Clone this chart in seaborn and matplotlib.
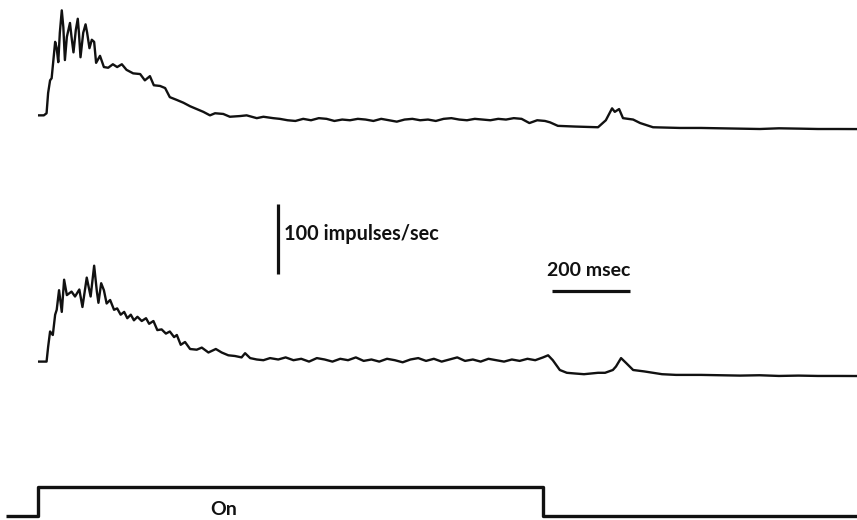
import numpy as np
import pandas as pd
import matplotlib
matplotlib.use("Agg")
import matplotlib.pyplot as plt
import seaborn as sns

# ---------------- data (time in ms from stimulus onset, rate in impulses/sec) ----------------
t1 = [0, 15, 22, 26, 31, 35, 44, 48, 52, 56, 61, 65, 69, 74, 82, 86, 91, 97, 102, 105,
      109, 116, 122, 126, 132, 138, 144, 149, 159, 169, 180, 192, 203, 215, 227, 244, 262,
      274, 287, 297, 313, 326, 338, 356, 373, 390, 407, 424, 441, 454, 475, 492, 518, 535,
      561, 578, 603,
      620, 640, 660, 680, 700, 720, 740, 760, 780, 800, 820, 840, 860, 880, 900, 920, 940,
      960, 980, 1000, 1020, 1040, 1060, 1080, 1100, 1120, 1140, 1160, 1180, 1200, 1220,
      1240, 1260, 1280, 1300, 1313, 1333, 1377, 1436, 1456, 1472, 1479, 1490, 1500, 1513,
      1526, 1544, 1577, 1646, 1700, 1749, 1800, 1851, 1900, 1954, 2000, 2050, 2100]
r1 = [21, 21, 24, 53, 71, 74, 126, 117, 97, 139, 171, 147, 100, 133, 153, 133, 111, 143, 159, 139,
      104, 139, 151, 139, 117, 129, 126, 96, 106, 90, 89, 94, 90, 94, 86, 81, 80,
      71, 77, 64, 63, 60, 47, 43, 39, 34, 30, 26, 21, 24, 23, 19, 20, 21,
      17, 19, 17,
      16, 14, 13, 16, 14, 17, 16, 13, 15, 14, 16, 15, 13, 16, 14, 12, 15,
      16, 14, 15, 13, 16, 17, 15, 14, 16, 15, 14, 16, 15, 17,
      16, 10, 14, 13, 11, 6, 5, 4, 14, 31, 26, 30, 17, 16,
      15, 10, 4, 3, 3, 2.5, 2, 1.5, 2.5, 2, 1.5, 1.5, 1.4]

t2 = [0, 22, 26, 31, 38, 44, 48, 54, 61, 67, 74, 86, 95, 106, 114, 125, 135, 144, 151, 155,
      162, 169, 176, 185, 195, 203, 212, 221, 229, 238, 246, 255, 266, 277, 285, 296, 306,
      317, 328, 338, 349, 356, 366, 377, 390, 407, 420, 437, 456, 471, 488, 505, 522, 531,
      544, 561, 578, 595, 616,
      635, 655, 675, 695, 715, 735, 755, 775, 795, 815, 835, 855, 875, 895, 915, 935, 955,
      975, 995, 1015, 1035, 1055, 1075, 1095, 1115, 1135, 1155, 1175, 1195, 1215, 1235,
      1255, 1275, 1295, 1308, 1320, 1338, 1356, 1377, 1400, 1436, 1454, 1474, 1482, 1495,
      1508, 1526, 1554, 1600, 1636, 1700, 1750, 1800, 1850, 1900, 1950, 2000, 2050, 2100]
r2 = [22, 22, 43, 65, 60, 89, 96, 124, 93, 139, 117, 122, 115, 125, 100, 142, 115, 159, 122, 106,
      134, 124, 105, 110, 96, 98, 89, 93, 84, 89, 81, 86, 80, 84, 76, 80, 67,
      68, 62, 65, 57, 60, 46, 50, 40, 39, 42, 35, 40, 35, 31, 30, 28, 34,
      27, 25, 24, 27, 25,
      28, 24, 26, 22, 27, 25, 22, 26, 24, 28, 23, 25, 22, 26, 24, 21, 25,
      27, 23, 26, 22, 25, 28, 23, 25, 22, 26, 24, 22, 25, 23,
      26, 24, 28, 31, 24, 10, 6, 5, 4, 6, 6, 10, 15, 27,
      20, 10, 8, 4, 3, 3, 2.5, 2, 2.5, 1.5, 2, 1.5, 1.5, 1.4]

stim_t = [-82, 0, 0, 1295, 1295, 2100]
stim_on = [0, 0, 1, 1, 0, 0]

scale_rate = 100      # impulses/sec
scale_time = 200      # msec

# ---------------- layout ----------------
OFF1 = 557.1     # baseline position of upper trace
OFF2 = 204.3     # baseline position of lower trace
STIM_LOW = 5.7
STIM_H = 41.4
INK = "#111111"

sns.set_style("white")
plt.rcParams["font.family"] = ["Lato", "DejaVu Sans"]

fig = plt.figure(figsize=(8.57, 5.2), dpi=100)
ax = fig.add_axes([0, 0, 1, 1])
ax.set_xlim(-97.4, 2100)
ax.set_ylim(0, 742.9)
ax.axis("off")

df1 = pd.DataFrame({"t": t1, "y": np.array(r1) + OFF1})
df2 = pd.DataFrame({"t": t2, "y": np.array(r2) + OFF2})
dfs = pd.DataFrame({"t": stim_t, "y": STIM_LOW + np.array(stim_on) * STIM_H})

kw = dict(estimator=None, sort=False, ax=ax, color=INK, legend=False)
sns.lineplot(data=df1, x="t", y="y", linewidth=1.7, **kw)
sns.lineplot(data=df2, x="t", y="y", linewidth=1.7, **kw)
sns.lineplot(data=dfs, x="t", y="y", linewidth=2.4, **kw)
for ln in ax.lines:
    ln.set_solid_joinstyle("round")
    ln.set_solid_capstyle("butt")

# vertical scale bar
ax.plot([615, 615], [351.4, 351.4 + scale_rate], color=INK, lw=2.3, solid_capstyle="butt")
ax.text(631, 408.6, f"{scale_rate} impulses/sec", ha="left", va="center",
        fontsize=14.3, fontweight="bold", color=INK)

# horizontal scale bar
ax.plot([1318, 1318 + scale_time], [327, 327], color=INK, lw=2.3, solid_capstyle="butt")
ax.text(1413, 357, f"{scale_time} msec", ha="center", va="center",
        fontsize=14, fontweight="bold", color=INK)

ax.text(477, 14.3, "On", ha="center", va="center", fontsize=14,
        fontweight="bold", color=INK)

fig.savefig("out.png", dpi=100, facecolor="white")
